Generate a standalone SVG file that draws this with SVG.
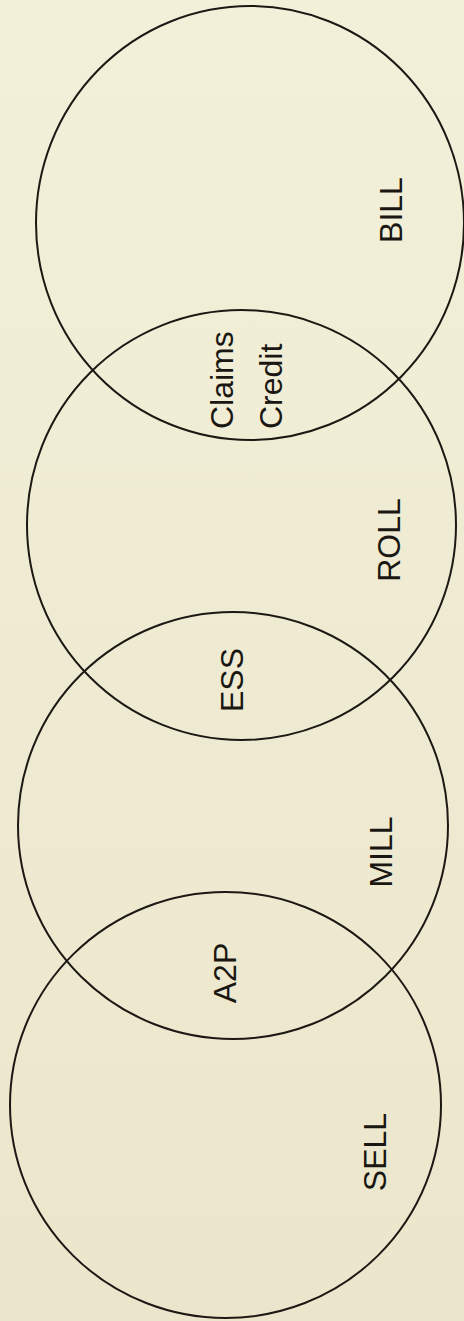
<svg xmlns="http://www.w3.org/2000/svg" width="464" height="1321" viewBox="0 0 464 1321">
  <defs>
    <linearGradient id="bg" x1="0" y1="0" x2="0" y2="1">
      <stop offset="0" stop-color="#f3f0da"/>
      <stop offset="1" stop-color="#ebe6cb"/>
    </linearGradient>
    <style>
      .set { fill: none; stroke: #1c1813; stroke-width: 2; }
      .lbl { font-family: "Liberation Sans", Arial, sans-serif; font-size: 32px; fill: #1a1712; }
    </style>
  </defs>
  <rect x="0" y="0" width="464" height="1321" fill="url(#bg)"/>
  <g id="bill">
    <ellipse class="set" cx="250" cy="223" rx="214" ry="217"/>
    <text class="lbl" text-anchor="middle" transform="translate(402,210) rotate(-90)">BILL</text>
  </g>
  <g id="roll">
    <ellipse class="set" cx="241.5" cy="525" rx="214.5" ry="215"/>
    <text class="lbl" text-anchor="middle" transform="translate(400,540) rotate(-90)">ROLL</text>
  </g>
  <g id="mill">
    <ellipse class="set" cx="233" cy="825.5" rx="215" ry="213.5"/>
    <text class="lbl" text-anchor="middle" transform="translate(392,852) rotate(-90)">MILL</text>
  </g>
  <g id="sell">
    <ellipse class="set" cx="225.5" cy="1105" rx="215.5" ry="213"/>
    <text class="lbl" text-anchor="middle" transform="translate(386,1152) rotate(-90)">SELL</text>
  </g>
  <g id="claims-credit">
    <text class="lbl" text-anchor="start" transform="translate(233,429) rotate(-90)">Claims</text>
    <text class="lbl" text-anchor="start" transform="translate(282,429) rotate(-90)">Credit</text>
  </g>
  <g id="ess">
    <text class="lbl" text-anchor="middle" transform="translate(243,680) rotate(-90)">ESS</text>
  </g>
  <g id="a2p">
    <text class="lbl" text-anchor="middle" transform="translate(236,973) rotate(-90)">A2P</text>
  </g>
  <g id="connectors"></g>
</svg>
